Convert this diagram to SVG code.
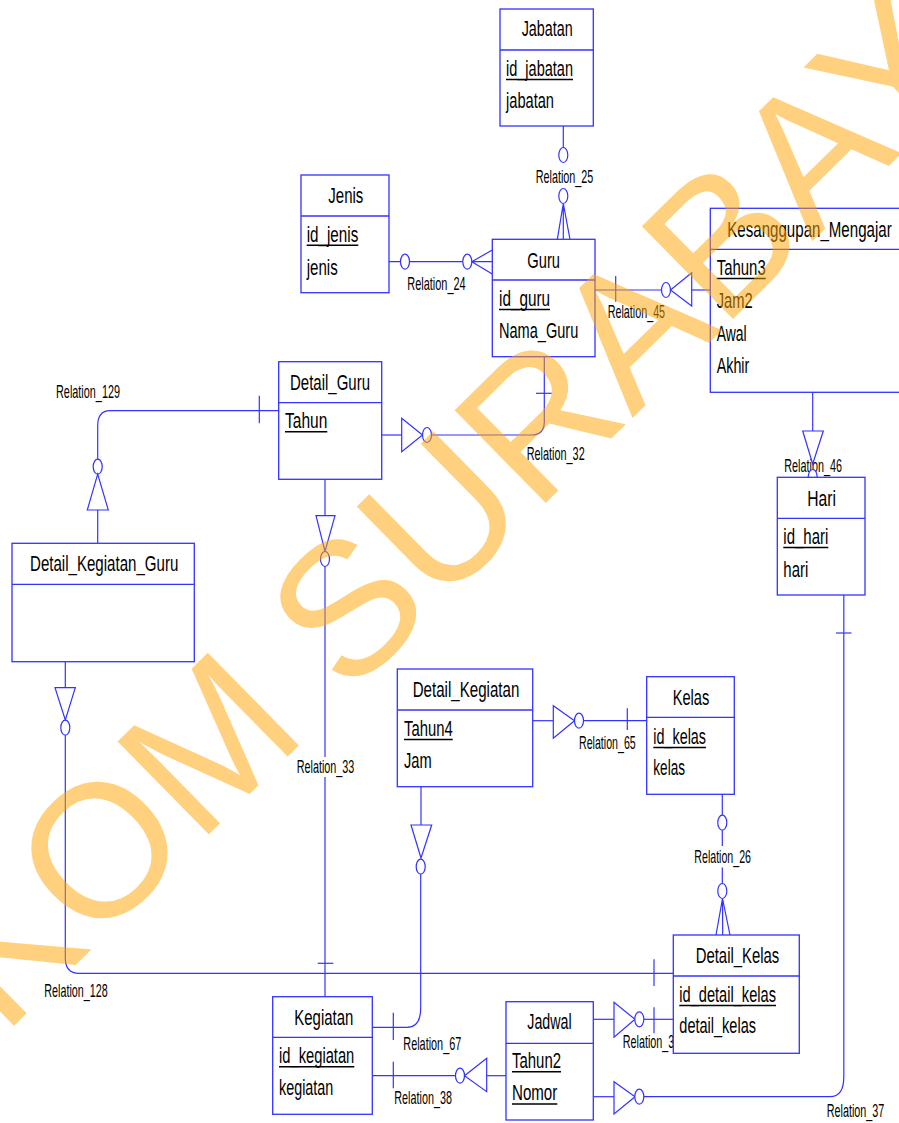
<svg xmlns="http://www.w3.org/2000/svg" width="899" height="1123" viewBox="0 0 899 1123">
<style>
.ln{fill:none;stroke:#3333ff;stroke-width:1.2}
.mk{fill:#fff;stroke:#3333ff;stroke-width:1.2}
.box{fill:#fff;stroke:#3333ff;stroke-width:1.3}
.div{stroke:#3333ff;stroke-width:1.3}
.ul{stroke:#000;stroke-width:1.6}
text{font-family:"Liberation Sans Narrow","Liberation Sans",Arial,sans-serif;fill:#000}
.t{font-size:22.5px}
.lb{font-size:18.5px}
.wm{font-family:"Liberation Sans",Arial,sans-serif;font-size:189px;fill:#ffa500;opacity:0.5}
</style>
<rect width="899" height="1123" fill="#fff"/>
<g id="connectors">
  <g id="rel25">
    <line class="ln" x1="563.3" y1="126" x2="563.3" y2="147.5"/>
    <ellipse class="mk" cx="563.3" cy="155" rx="4.5" ry="7.5"/>
    <text class="lb" x="535.7" y="182.7" textLength="57.6" lengthAdjust="spacingAndGlyphs">Relation_25</text>
    <ellipse class="mk" cx="563.3" cy="196" rx="4.5" ry="7.5"/>
    <path class="ln" d="M563.3,203.5 L557.3,239.3 M563.3,203.5 L563.3,239.3 M563.3,203.5 L570,239.3"/>
  </g>
  <g id="rel24">
    <line class="ln" x1="389" y1="261.7" x2="462.8" y2="261.7"/>
    <ellipse class="mk" cx="405" cy="261.7" rx="4.5" ry="7.5"/>
    <ellipse class="mk" cx="467.3" cy="261.7" rx="4.5" ry="7.5"/>
    <path class="ln" d="M471.8,261.7 L492.3,250 M471.8,261.7 L492.3,261.7 M471.8,261.7 L492.3,274"/>
    <text class="lb" x="407.3" y="290" textLength="58.4" lengthAdjust="spacingAndGlyphs">Relation_24</text>
  </g>
  <g id="rel45">
    <line class="ln" x1="595" y1="290" x2="661.5" y2="290"/>
    <line class="ln" x1="615.7" y1="276" x2="615.7" y2="301.7"/>
    <ellipse class="mk" cx="666" cy="290" rx="4.5" ry="7.5"/>
    <polygon class="mk" points="670.5,290 691.7,272.7 691.7,306"/>
    <line class="ln" x1="691.7" y1="290" x2="710.3" y2="290"/>
    <text class="lb" x="607.7" y="318.3" textLength="57.4" lengthAdjust="spacingAndGlyphs">Relation_45</text>
  </g>
  <g id="rel32">
    <path class="ln" d="M544.3,356.7 V422 Q544.3,435 531,435 H431.5"/>
    <line class="ln" x1="536" y1="393.3" x2="551.7" y2="393.3"/>
    <ellipse class="mk" cx="427" cy="435" rx="4.5" ry="7.5"/>
    <polygon class="mk" points="422.5,435 401.7,418.3 401.7,451.7"/>
    <line class="ln" x1="401.7" y1="435" x2="381.7" y2="435"/>
    <text class="lb" x="526.7" y="460" textLength="58" lengthAdjust="spacingAndGlyphs">Relation_32</text>
  </g>
  <g id="rel129">
    <path class="ln" d="M278.7,410.7 H110 Q97.7,410.7 97.7,426 V459.2"/>
    <line class="ln" x1="259.3" y1="395.7" x2="259.3" y2="423.3"/>
    <ellipse class="mk" cx="97.7" cy="466.7" rx="4.5" ry="7.5"/>
    <polygon class="mk" points="97.7,474.2 87.3,510 108.3,510"/>
    <line class="ln" x1="97.7" y1="510" x2="97.7" y2="543.3"/>
    <text class="lb" x="56" y="398.3" textLength="64" lengthAdjust="spacingAndGlyphs">Relation_129</text>
  </g>
  <g id="rel33">
    <line class="ln" x1="325" y1="479.3" x2="325" y2="515.7"/>
    <polygon class="mk" points="316,515.7 335,515.7 325,551.5"/>
    <ellipse class="mk" cx="325" cy="559" rx="4.5" ry="7.5"/>
    <line class="ln" x1="325" y1="566.5" x2="325" y2="757"/>
    <line class="ln" x1="325" y1="777" x2="325" y2="996.7"/>
    <line class="ln" x1="317.7" y1="963.3" x2="333.3" y2="963.3"/>
    <text class="lb" x="296.7" y="773.3" textLength="57.6" lengthAdjust="spacingAndGlyphs">Relation_33</text>
  </g>
  <g id="rel128">
    <line class="ln" x1="65.3" y1="661.7" x2="65.3" y2="687.7"/>
    <polygon class="mk" points="55,687.7 75.3,687.7 65.3,720"/>
    <ellipse class="mk" cx="65.3" cy="727.7" rx="4.5" ry="7.5"/>
    <path class="ln" d="M65.3,735.2 V958 Q65.3,973.3 79,973.3 H673.3"/>
    <line class="ln" x1="654" y1="959.3" x2="654" y2="986"/>
    <text class="lb" x="44.3" y="996.7" textLength="63.4" lengthAdjust="spacingAndGlyphs">Relation_128</text>
  </g>
  <g id="rel67">
    <line class="ln" x1="421" y1="786.7" x2="421" y2="825"/>
    <polygon class="mk" points="411,825 431.7,825 421,858"/>
    <ellipse class="mk" cx="420.7" cy="866.7" rx="4.5" ry="7.5"/>
    <path class="ln" d="M420.7,874.2 V1008 Q420.7,1027.3 407,1027.3 H372.3"/>
    <line class="ln" x1="393.3" y1="1012.7" x2="393.3" y2="1040"/>
    <text class="lb" x="403.3" y="1050" textLength="58" lengthAdjust="spacingAndGlyphs">Relation_67</text>
  </g>
  <g id="rel65">
    <line class="ln" x1="532.7" y1="720.7" x2="553.3" y2="720.7"/>
    <polygon class="mk" points="553.3,705.7 553.3,738.3 574.5,720.7"/>
    <ellipse class="mk" cx="579" cy="720.7" rx="4.5" ry="7.5"/>
    <line class="ln" x1="583.5" y1="720.7" x2="646.7" y2="720.7"/>
    <line class="ln" x1="627.3" y1="708.3" x2="627.3" y2="730"/>
    <text class="lb" x="579" y="749.3" textLength="56.7" lengthAdjust="spacingAndGlyphs">Relation_65</text>
  </g>
  <g id="rel26">
    <line class="ln" x1="722.3" y1="794.3" x2="722.3" y2="815.2"/>
    <ellipse class="mk" cx="722.3" cy="822.7" rx="4.5" ry="7.5"/>
    <line class="ln" x1="722.3" y1="830.2" x2="722.3" y2="846"/>
    <text class="lb" x="694.3" y="863.3" textLength="56.7" lengthAdjust="spacingAndGlyphs">Relation_26</text>
    <line class="ln" x1="722.3" y1="867.5" x2="722.3" y2="883.5"/>
    <ellipse class="mk" cx="722.3" cy="891" rx="4.5" ry="7.5"/>
    <path class="ln" d="M722.5,898.5 L716,935 M722.5,898.5 L722.7,935 M722.5,898.5 L730,935"/>
  </g>
  <g id="rel3x">
    <text class="lb" x="622.7" y="1048.3" textLength="51.6" lengthAdjust="spacingAndGlyphs">Relation_3</text>
    <line class="ln" x1="593.3" y1="1019.3" x2="614" y2="1019.3"/>
    <polygon class="mk" points="614,1002.3 614,1037.3 635,1019.3"/>
    <ellipse class="mk" cx="639.3" cy="1019.3" rx="4.5" ry="7.5"/>
    <line class="ln" x1="643.8" y1="1019.3" x2="673.3" y2="1019.3"/>
    <line class="ln" x1="654" y1="1007.3" x2="654" y2="1033.3"/>
  </g>
  <g id="rel38">
    <line class="ln" x1="372.3" y1="1075.7" x2="455.5" y2="1075.7"/>
    <line class="ln" x1="393.3" y1="1061.7" x2="393.3" y2="1088.3"/>
    <ellipse class="mk" cx="460" cy="1075.7" rx="4.5" ry="7.5"/>
    <polygon class="mk" points="464.5,1075.7 486.7,1058.3 486.7,1091.7"/>
    <line class="ln" x1="486.7" y1="1075.7" x2="506" y2="1075.7"/>
    <text class="lb" x="394.3" y="1104" textLength="57.6" lengthAdjust="spacingAndGlyphs">Relation_38</text>
  </g>
  <g id="rel37">
    <line class="ln" x1="593.3" y1="1096.7" x2="614" y2="1096.7"/>
    <polygon class="mk" points="614,1081.7 614,1114 635,1096.7"/>
    <ellipse class="mk" cx="639.3" cy="1096.7" rx="4.5" ry="7.5"/>
    <path class="ln" d="M643.8,1096.7 H830 Q843.8,1096.7 843.8,1077 V595"/>
    <line class="ln" x1="836" y1="633" x2="851.5" y2="633"/>
    <text class="lb" x="826.7" y="1117" textLength="57.6" lengthAdjust="spacingAndGlyphs">Relation_37</text>
  </g>
  <g id="rel46">
    <text class="lb" x="784.3" y="471.7" textLength="57.6" lengthAdjust="spacingAndGlyphs">Relation_46</text>
    <line class="ln" x1="812.7" y1="392.3" x2="812.7" y2="431"/>
    <polygon class="mk" points="802.7,431 823.3,431 812.7,464"/>
    <ellipse class="mk" cx="812.7" cy="477" rx="4.5" ry="7.5"/>
  </g>
</g>

<g id="Jabatan">
  <rect class="box" x="500" y="9" width="93.3" height="117"/>
  <line class="div" x1="500" y1="50" x2="593.3" y2="50"/>
  <text class="t" x="521.7" y="36" textLength="51" lengthAdjust="spacingAndGlyphs">Jabatan</text>
  <text class="t" x="506" y="76" textLength="67" lengthAdjust="spacingAndGlyphs">id_jabatan</text>
  <line class="ul" x1="506" y1="79.5" x2="573" y2="79.5"/>
  <text class="t" x="506" y="108.3" textLength="48" lengthAdjust="spacingAndGlyphs">jabatan</text>
</g>
<g id="Jenis">
  <rect class="box" x="301" y="175" width="88" height="117.7"/>
  <line class="div" x1="301" y1="216" x2="389" y2="216"/>
  <text class="t" x="328.3" y="203.3" textLength="35" lengthAdjust="spacingAndGlyphs">Jenis</text>
  <text class="t" x="306.7" y="241.7" textLength="51.6" lengthAdjust="spacingAndGlyphs">id_jenis</text>
  <line class="ul" x1="306.7" y1="245.2" x2="358.3" y2="245.2"/>
  <text class="t" x="306.7" y="275" textLength="31" lengthAdjust="spacingAndGlyphs">jenis</text>
</g>
<g id="Guru">
  <rect class="box" x="492.3" y="239.3" width="102.7" height="117.4"/>
  <line class="div" x1="492.3" y1="280" x2="595" y2="280"/>
  <text class="t" x="527.3" y="268.3" textLength="32.7" lengthAdjust="spacingAndGlyphs">Guru</text>
  <text class="t" x="499" y="306" textLength="51" lengthAdjust="spacingAndGlyphs">id_guru</text>
  <line class="ul" x1="499" y1="309.5" x2="550" y2="309.5"/>
  <text class="t" x="499" y="338.3" textLength="79.3" lengthAdjust="spacingAndGlyphs">Nama_Guru</text>
</g>
<g id="Kesanggupan_Mengajar">
  <rect class="box" x="710.3" y="208.3" width="195" height="184"/>
  <line class="div" x1="710.3" y1="249.3" x2="905" y2="249.3"/>
  <text class="t" x="727.3" y="236.7" textLength="164.4" lengthAdjust="spacingAndGlyphs">Kesanggupan_Mengajar</text>
  <text class="t" x="716.7" y="275" textLength="49" lengthAdjust="spacingAndGlyphs">Tahun3</text>
  <line class="ul" x1="716.7" y1="278.5" x2="765.7" y2="278.5"/>
  <text class="t" x="716.7" y="308.3" textLength="36" lengthAdjust="spacingAndGlyphs">Jam2</text>
  <text class="t" x="716.7" y="340.7" textLength="30" lengthAdjust="spacingAndGlyphs">Awal</text>
  <text class="t" x="716.7" y="373.3" textLength="32.6" lengthAdjust="spacingAndGlyphs">Akhir</text>
</g>
<g id="Detail_Guru">
  <rect class="box" x="278.7" y="361.7" width="103" height="117.6"/>
  <line class="div" x1="278.7" y1="402.7" x2="381.7" y2="402.7"/>
  <text class="t" x="290" y="390" textLength="80" lengthAdjust="spacingAndGlyphs">Detail_Guru</text>
  <text class="t" x="285" y="428.3" textLength="42.3" lengthAdjust="spacingAndGlyphs">Tahun</text>
  <line class="ul" x1="285" y1="431.8" x2="327.3" y2="431.8"/>
</g>
<g id="Detail_Kegiatan_Guru">
  <rect class="box" x="12" y="543.3" width="182.3" height="118.4"/>
  <line class="div" x1="12" y1="584.3" x2="194.3" y2="584.3"/>
  <text class="t" x="30" y="570.7" textLength="148.3" lengthAdjust="spacingAndGlyphs">Detail_Kegiatan_Guru</text>
</g>
<g id="Hari">
  <rect class="box" x="777.3" y="477.3" width="87.7" height="117.7"/>
  <line class="div" x1="777.3" y1="518.3" x2="865" y2="518.3"/>
  <text class="t" x="807.3" y="506" textLength="28.7" lengthAdjust="spacingAndGlyphs">Hari</text>
  <text class="t" x="783.3" y="544" textLength="45" lengthAdjust="spacingAndGlyphs">id_hari</text>
  <line class="ul" x1="783.3" y1="547.5" x2="828.3" y2="547.5"/>
  <text class="t" x="783.3" y="576.7" textLength="25" lengthAdjust="spacingAndGlyphs">hari</text>
</g>
<g id="Detail_Kegiatan">
  <rect class="box" x="397.3" y="669" width="135.4" height="117.7"/>
  <line class="div" x1="397.3" y1="710" x2="532.7" y2="710"/>
  <text class="t" x="412.7" y="696.7" textLength="106.6" lengthAdjust="spacingAndGlyphs">Detail_Kegiatan</text>
  <text class="t" x="404" y="736" textLength="48.7" lengthAdjust="spacingAndGlyphs">Tahun4</text>
  <line class="ul" x1="404" y1="739.5" x2="452.7" y2="739.5"/>
  <text class="t" x="404" y="768.3" textLength="27.7" lengthAdjust="spacingAndGlyphs">Jam</text>
</g>
<g id="Kelas">
  <rect class="box" x="646.7" y="676.7" width="87.6" height="117.6"/>
  <line class="div" x1="646.7" y1="717.3" x2="734.3" y2="717.3"/>
  <text class="t" x="672.7" y="705" textLength="36.6" lengthAdjust="spacingAndGlyphs">Kelas</text>
  <text class="t" x="653.3" y="744" textLength="52.7" lengthAdjust="spacingAndGlyphs">id_kelas</text>
  <line class="ul" x1="653.3" y1="747.5" x2="706" y2="747.5"/>
  <text class="t" x="653.3" y="775" textLength="31.7" lengthAdjust="spacingAndGlyphs">kelas</text>
</g>
<g id="Detail_Kelas">
  <rect class="box" x="673.3" y="935" width="126" height="118.3"/>
  <line class="div" x1="673.3" y1="976" x2="799.3" y2="976"/>
  <text class="t" x="695.7" y="963.3" textLength="83.6" lengthAdjust="spacingAndGlyphs">Detail_Kelas</text>
  <text class="t" x="679.3" y="1001.7" textLength="96.7" lengthAdjust="spacingAndGlyphs">id_detail_kelas</text>
  <line class="ul" x1="679.3" y1="1005.5" x2="776" y2="1005.5"/>
  <text class="t" x="679.3" y="1033.3" textLength="76.7" lengthAdjust="spacingAndGlyphs">detail_kelas</text>
</g>
<g id="Kegiatan">
  <rect class="box" x="272.7" y="996.7" width="99.6" height="117.6"/>
  <line class="div" x1="272.7" y1="1037.3" x2="372.3" y2="1037.3"/>
  <text class="t" x="294.3" y="1025" textLength="59" lengthAdjust="spacingAndGlyphs">Kegiatan</text>
  <text class="t" x="279" y="1063.3" textLength="75.3" lengthAdjust="spacingAndGlyphs">id_kegiatan</text>
  <line class="ul" x1="279" y1="1066.8" x2="354.3" y2="1066.8"/>
  <text class="t" x="279" y="1095" textLength="54.3" lengthAdjust="spacingAndGlyphs">kegiatan</text>
</g>
<g id="Jadwal">
  <rect class="box" x="506" y="1001.7" width="87.3" height="118.3"/>
  <line class="div" x1="506" y1="1043.3" x2="593.3" y2="1043.3"/>
  <text class="t" x="527.3" y="1029.3" textLength="44.4" lengthAdjust="spacingAndGlyphs">Jadwal</text>
  <text class="t" x="512" y="1068.3" textLength="49" lengthAdjust="spacingAndGlyphs">Tahun2</text>
  <line class="ul" x1="512" y1="1071.8" x2="561" y2="1071.8"/>
  <text class="t" x="512" y="1100" textLength="45.3" lengthAdjust="spacingAndGlyphs">Nomor</text>
  <line class="ul" x1="512" y1="1104" x2="557.3" y2="1104"/>
</g>

<g id="watermark">
  <text class="wm" transform="translate(427.5,619.3) rotate(-44.5)" text-anchor="middle">STIKOM SURABAYA</text>
</g>
</svg>
